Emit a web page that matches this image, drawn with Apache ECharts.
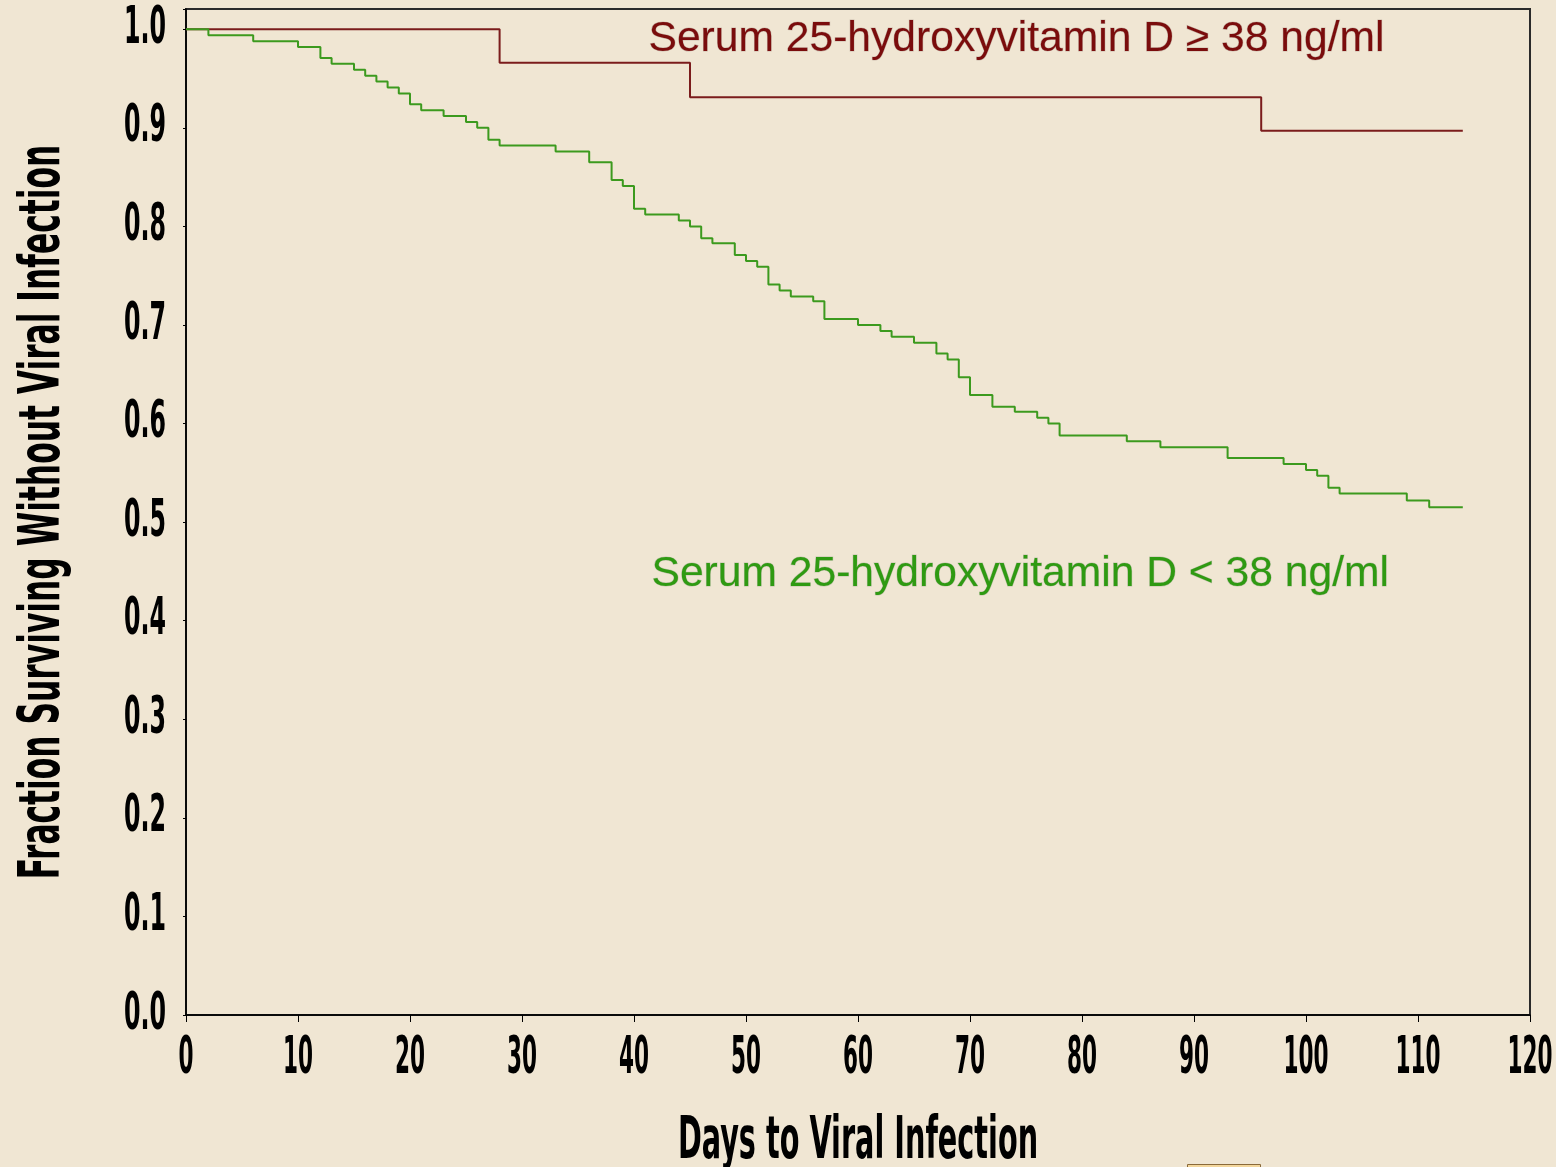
<!DOCTYPE html>
<html>
<head>
<meta charset="utf-8">
<script src="https://cdn.jsdelivr.net/npm/echarts@6/dist/echarts.min.js"></script>
<style>
html,body{margin:0;padding:0;background:#f0e6d3;}
#c{width:1556px;height:1167px;}
</style>
</head>
<body>
<div id="c"></div>
<script>
// Kaplan-Meier step data: [day, fraction surviving]
const highVitD = [[0,1.0],[28,0.966],[45,0.931],[96,0.897],[114,0.897]];
const lowVitD = [[0,1.0],[2,0.994],[6,0.988],[10,0.982],[12,0.971],[13,0.965],[15,0.959],[16,0.953],[17,0.947],[18,0.941],[19,0.935],[20,0.924],[21,0.918],[23,0.912],[25,0.906],[26,0.900],[27,0.888],[28,0.882],[33,0.876],[36,0.865],[38,0.847],[39,0.841],[40,0.818],[41,0.812],[44,0.806],[45,0.800],[46,0.788],[47,0.783],[49,0.771],[50,0.765],[51,0.759],[52,0.741],[53,0.735],[54,0.729],[56,0.724],[57,0.706],[60,0.700],[62,0.694],[63,0.688],[65,0.682],[67,0.671],[68,0.665],[69,0.647],[70,0.629],[72,0.617],[74,0.612],[76,0.606],[77,0.600],[78,0.588],[84,0.582],[87,0.576],[93,0.565],[98,0.559],[100,0.553],[101,0.547],[102,0.535],[103,0.529],[109,0.522],[111,0.515],[114,0.515]];
const seriesNames = ['Serum 25-hydroxyvitamin D \u2265 38 ng/ml', 'Serum 25-hydroxyvitamin D < 38 ng/ml'];
const xTicks = [0,10,20,30,40,50,60,70,80,90,100,110,120];
const yTicks = [0.0,0.1,0.2,0.3,0.4,0.5,0.6,0.7,0.8,0.9,1.0];
const xTitle = 'Days to Viral Infection';
const yTitle = 'Fraction Surviving Without Viral Infection';

const condensed = '"DejaVu Sans Condensed", "Liberation Sans Narrow", sans-serif';
const chart = echarts.init(document.getElementById('c'), null, {renderer:'canvas'});
const option = {
  backgroundColor: '#f0e6d3',
  animation: false,
  grid: {left:186, right:26, top:9, bottom:152, outerBoundsMode:'none', containLabel:false,
    show:true, borderColor:'#2a2a2a', borderWidth:2, backgroundColor:'transparent'},
  xAxis: {
    type:'value', min:xTicks[0], max:xTicks[xTicks.length-1], interval:10,
    name:xTitle, nameLocation:'middle', nameGap:98,
    nameTextStyle:{fontFamily:condensed, fontWeight:'bold', fontSize:42, color:'#000'},
    axisLine:{show:true, lineStyle:{color:'#000', width:1.5}},
    axisTick:{show:true, length:7, lineStyle:{color:'#000', width:1}},
    axisLabel:{fontFamily:condensed, fontWeight:'bold', fontSize:40, color:'#000', margin:18},
    splitLine:{show:false}
  },
  yAxis: {
    type:'value', min:0, max:1.0206, interval:0.1,
    name:yTitle, nameLocation:'middle', nameGap:113, nameRotate:90,
    nameTextStyle:{fontFamily:condensed, fontWeight:'bold', fontSize:40, color:'#000'},
    axisLine:{show:true, lineStyle:{color:'#000', width:1.5}},
    axisTick:{show:true, length:3, lineStyle:{color:'#000', width:1}},
    axisLabel:{fontFamily:condensed, fontWeight:'bold', fontSize:40, color:'#000', margin:20,
      formatter: v => {
        const t = yTicks.find(y => Math.abs(y - v) < 1e-6);
        return t === undefined ? '' : t.toFixed(1);
      }},
    splitLine:{show:false}
  },
  series: [
    {name:seriesNames[0], type:'line', step:'end', data:highVitD, showSymbol:false, symbol:'none',
      lineStyle:{color:'#7b1c1c', width:2}, z:2},
    {name:seriesNames[1], type:'line', step:'end', data:lowVitD, showSymbol:false, symbol:'none',
      lineStyle:{color:'#3c9a1e', width:2}, z:3}
  ],
  graphic: [
    {type:'text', left:648, top:17, z:10, style:{text:seriesNames[0], fill:'#7a0c0c', font:'42.6px "Liberation Sans", Arial, sans-serif', stroke:'rgba(90,60,60,0.25)', lineWidth:1}},
    {type:'text', left:651, top:552, z:10, style:{text:seriesNames[1], fill:'#2f9a12', font:'42.6px "Liberation Sans", Arial, sans-serif', stroke:'rgba(60,90,60,0.25)', lineWidth:1}},
    {type:'rect', left:1187, top:1164, z:10, shape:{width:73, height:10}, style:{fill:'#f3d69c', stroke:'#8a6a3a', lineWidth:1}}
  ]
};
chart.setOption(option);

// Give the axis texts the tall, condensed look of the original typeface.
(function condenseAxisTexts(){
  try {
    const xSet = new Set(xTicks.map(String));
    const ySet = new Set(yTicks.map(v => v.toFixed(1)));
    const zr = chart.getZr();
    const list = zr.storage.getDisplayList(true);
    list.forEach(el => {
      const txt = el.style && el.style.text;
      if (txt == null) return;
      let s = null;
      if (xSet.has(String(txt))) s = [0.6, 1.3];
      else if (ySet.has(String(txt))) s = [0.66, 1.3];
      else if (txt === xTitle) s = [0.76, 1.4];
      else if (txt === yTitle) s = [0.87, 1.43];
      if (s) { el.scaleX = s[0]; el.scaleY = s[1]; el.markRedraw(); }
    });
    zr.refreshImmediately();
  } catch (e) { console.log(e); }
})();
</script>
</body>
</html>
